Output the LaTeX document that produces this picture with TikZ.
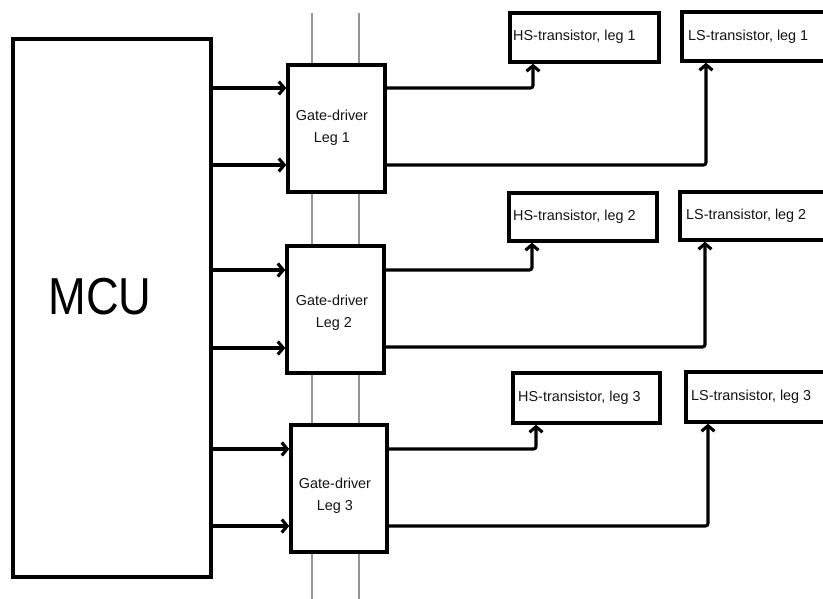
\documentclass[tikz,border=0pt]{standalone}
\usepackage{fontspec}
\setmainfont{Liberation Sans}
\usetikzlibrary{arrows.meta}
\begin{document}
\begin{tikzpicture}[x=1pt,y=-1pt,
  blk/.style={draw=black, line width=3.4pt, fill=white, rectangle, inner sep=0pt},
  conn/.style={line width=3.1pt, rounded corners=2.5pt, -{Straight Barb[length=5.5pt,width=13pt,line width=3.1pt]}},
  rail/.style={draw={rgb,255:red,150;green,150;blue,150}, line width=1.5pt},
  lbl/.style={font=\fontsize{14.4}{22}\selectfont, text={rgb,255:red,20;green,20;blue,20}, inner sep=0pt},
  tlbl/.style={lbl, anchor=west}
]
\useasboundingbox (0,0) rectangle (823,599);
\clip (0,0) rectangle (823,599);
\fill[white] (0,0) rectangle (823,599);

% gray rails
\coordinate (r1t) at (312,13);
\coordinate (r1b) at (312,599);
\coordinate (r2t) at (359,13);
\coordinate (r2b) at (359,599);
\draw[rail] (r1t) -- (r1b);
\draw[rail] (r2t) -- (r2b);

% MCU
\node[blk, minimum width=198pt, minimum height=538pt] (mcu) at (112,308) {};
\node[font=\fontsize{52}{52}\selectfont, xscale=0.87, inner sep=0pt] (mcut) at (100,297) {MCU};

% gate drivers
\node[blk, minimum width=97pt, minimum height=127pt] (gd1) at (336.5,128.5) {};
\node[blk, minimum width=97pt, minimum height=127pt] (gd2) at (335.5,309.5) {};
\node[blk, minimum width=96pt, minimum height=127pt] (gd3) at (339,488.5) {};
\node[lbl, align=center] (gd1t) at (332,128) {Gate-driver\\Leg 1};
\node[lbl, align=center] (gd2t) at (332,313) {Gate-driver\\\hspace*{4pt}Leg 2};
\node[lbl, align=center] (gd3t) at (335,496) {Gate-driver\\Leg 3};

% transistor boxes
\node[blk, minimum width=149pt, minimum height=49pt] (hs1) at (584.5,37.5) {};
\node[blk, minimum width=200pt, minimum height=49pt] (ls1) at (782,36.5) {};
\node[blk, minimum width=148pt, minimum height=48pt] (hs2) at (583,217) {};
\node[blk, minimum width=200pt, minimum height=48pt] (ls2) at (780,216) {};
\node[blk, minimum width=147pt, minimum height=50pt] (hs3) at (586.5,398) {};
\node[blk, minimum width=200pt, minimum height=50pt] (ls3) at (786,397) {};
\node[tlbl] (hs1t) at (513,37) {HS-transistor, leg 1};
\node[tlbl] (ls1t) at (688,37) {LS-transistor, leg 1};
\node[tlbl] (hs2t) at (513,217) {HS-transistor, leg 2};
\node[tlbl] (ls2t) at (686,216) {LS-transistor, leg 2};
\node[tlbl] (hs3t) at (518,398) {HS-transistor, leg 3};
\node[tlbl] (ls3t) at (691,397) {LS-transistor, leg 3};

% input points on gate drivers
\coordinate (i1a) at ([yshift=40.5pt]gd1.west);
\coordinate (i1b) at ([yshift=-36.5pt]gd1.west);
\coordinate (i2a) at ([yshift=39.5pt]gd2.west);
\coordinate (i2b) at ([yshift=-38.5pt]gd2.west);
\coordinate (i3a) at ([yshift=39.5pt]gd3.west);
\coordinate (i3b) at ([yshift=-37.5pt]gd3.west);
% output points
\coordinate (o1a) at ([yshift=40.5pt]gd1.east);
\coordinate (o1b) at ([yshift=-36.5pt]gd1.east);
\coordinate (o2a) at ([yshift=39.5pt]gd2.east);
\coordinate (o2b) at ([yshift=-37.5pt]gd2.east);
\coordinate (o3a) at ([yshift=39.5pt]gd3.east);
\coordinate (o3b) at ([yshift=-37.5pt]gd3.east);
% targets
\coordinate (h1) at ([xshift=-51.5pt]hs1.south);
\coordinate (l1) at ([xshift=-76pt]ls1.south);
\coordinate (h2) at ([xshift=-51pt]hs2.south);
\coordinate (l2) at ([xshift=-75pt]ls2.south);
\coordinate (h3) at ([xshift=-50.5pt]hs3.south);
\coordinate (l3) at ([xshift=-78pt]ls3.south);

% MCU -> gate drivers
\draw[conn] (mcu.east |- i1a) -- (i1a);
\draw[conn] (mcu.east |- i1b) -- (i1b);
\draw[conn] (mcu.east |- i2a) -- (i2a);
\draw[conn] (mcu.east |- i2b) -- (i2b);
\draw[conn] (mcu.east |- i3a) -- (i3a);
\draw[conn] (mcu.east |- i3b) -- (i3b);

% gate drivers -> transistors
\draw[conn] (o1a) -| (h1);
\draw[conn] (o1b) -| (l1);
\draw[conn] (o2a) -| (h2);
\draw[conn] (o2b) -| (l2);
\draw[conn] (o3a) -| (h3);
\draw[conn] (o3b) -| (l3);
\end{tikzpicture}
\end{document}
